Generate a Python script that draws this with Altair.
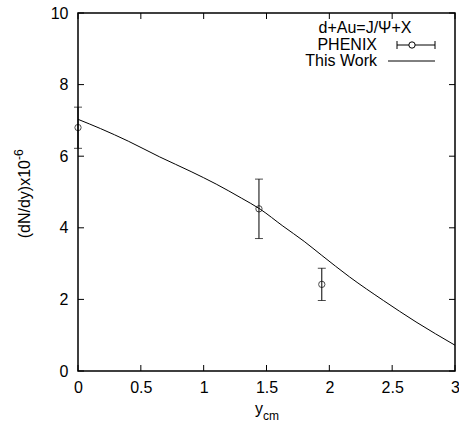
import altair as alt
import pandas as pd

# Theory curve ("This Work")
curve_x = [0.0, 0.18, 0.4, 0.65, 0.9, 1.1, 1.3, 1.45, 1.63, 1.8, 1.94, 2.16, 2.43, 2.69, 3.0]
curve_y = [7.03, 6.77, 6.42, 5.98, 5.57, 5.22, 4.83, 4.52, 4.05, 3.62, 3.23, 2.63, 1.97, 1.37, 0.72]

# PHENIX data
phenix_x = [0.0, 1.44, 1.94]
phenix_y = [6.8, 4.53, 2.42]
phenix_lo = [6.22, 3.70, 1.97]
phenix_hi = [7.37, 5.36, 2.87]

# axis tick values
x_ticks = [0, 0.5, 1, 1.5, 2, 2.5, 3]
y_ticks = [0, 2, 4, 6, 8, 10]

W, H = 377, 358
FONT = "Liberation Sans"
FS = 16

curve = pd.DataFrame({"x": curve_x, "y": curve_y})
pts = pd.DataFrame({"x": phenix_x, "y": phenix_y, "lo": phenix_lo, "hi": phenix_hi})
xt = pd.DataFrame({"v": x_ticks})
yt = pd.DataFrame({"v": y_ticks})

xs = alt.Scale(domain=[0, 3], nice=False, zero=False)
ys = alt.Scale(domain=[0, 10], nice=False, zero=False)

xaxis = alt.Axis(values=x_ticks, format=".1~f", title=None, domain=False, ticks=False, grid=False,
                 labelFont=FONT, labelFontSize=FS, labelColor="black", labelPadding=8,
                 labelFlush=False, labelOverlap=False)
yaxis = alt.Axis(values=y_ticks, format=".1~f", title=None, domain=False, ticks=False, grid=False,
                 labelFont=FONT, labelFontSize=FS, labelColor="black", labelPadding=10,
                 labelOverlap=False, labelFlush=False)

line = alt.Chart(curve).mark_line(color="black", strokeWidth=1, interpolate="monotone").encode(
    x=alt.X("x:Q", scale=xs, axis=xaxis),
    y=alt.Y("y:Q", scale=ys, axis=yaxis),
)

err = alt.Chart(pts).mark_rule(color="black", strokeWidth=1).encode(
    x=alt.X("x:Q", scale=xs), y=alt.Y("lo:Q", scale=ys), y2="hi:Q")
cap_lo = alt.Chart(pts).mark_tick(color="black", orient="horizontal", size=8, thickness=1).encode(
    x=alt.X("x:Q", scale=xs), y=alt.Y("lo:Q", scale=ys))
cap_hi = alt.Chart(pts).mark_tick(color="black", orient="horizontal", size=8, thickness=1).encode(
    x=alt.X("x:Q", scale=xs), y=alt.Y("hi:Q", scale=ys))
circ = alt.Chart(pts).mark_point(shape="circle", filled=False, color="black", size=40, strokeWidth=1).encode(
    x=alt.X("x:Q", scale=xs), y=alt.Y("y:Q", scale=ys))

# inside ticks (gnuplot style)
tl = 6
xt_b = alt.Chart(xt).mark_rule(color="black", strokeWidth=1).encode(
    x=alt.X("v:Q", scale=xs), y=alt.value(H), y2=alt.value(H - tl))
xt_t = alt.Chart(xt).mark_rule(color="black", strokeWidth=1).encode(
    x=alt.X("v:Q", scale=xs), y=alt.value(0), y2=alt.value(tl))
yt_l = alt.Chart(yt).mark_rule(color="black", strokeWidth=1).encode(
    y=alt.Y("v:Q", scale=ys), x=alt.value(0), x2=alt.value(tl))
yt_r = alt.Chart(yt).mark_rule(color="black", strokeWidth=1).encode(
    y=alt.Y("v:Q", scale=ys), x=alt.value(W), x2=alt.value(W - tl))

def txt(s, x, y, size=FS, align="left", angle=0):
    return alt.Chart(pd.DataFrame({"t": [s]})).mark_text(
        font=FONT, fontSize=size, color="black", align=align, baseline="alphabetic", angle=angle
    ).encode(text="t:N", x=alt.value(x), y=alt.value(y))

# legend
leg_title = txt("d+Au=J/\u03a8+X", 287, 20, align="center")
leg_ph = txt("PHENIX", 299, 37, align="right")
leg_tw = txt("This Work", 299, 53, align="right")
one = pd.DataFrame({"a": [0]})
leg_eb = alt.Chart(one).mark_rule(color="black", strokeWidth=1).encode(
    x=alt.value(319), x2=alt.value(357), y=alt.value(32))
leg_c1 = alt.Chart(one).mark_rule(color="black", strokeWidth=1).encode(
    x=alt.value(319), y=alt.value(28), y2=alt.value(36))
leg_c2 = alt.Chart(one).mark_rule(color="black", strokeWidth=1).encode(
    x=alt.value(357), y=alt.value(28), y2=alt.value(36))
leg_pt = alt.Chart(one).mark_point(shape="circle", filled=True, fill="white", stroke="black",
                                   size=40, strokeWidth=1, opacity=1).encode(
    x=alt.value(334), y=alt.value(32))
leg_ln = alt.Chart(one).mark_rule(color="black", strokeWidth=1).encode(
    x=alt.value(310), x2=alt.value(357), y=alt.value(48))

# axis titles with sub/superscripts
xt1 = txt("y", 177, 401)
xt2 = txt("cm", 185, 407, size=12)
yt1 = txt("(dN/dy)x10", -48, 147, align="right", angle=270)
yt2 = txt("-6", -55, 147, size=12, align="left", angle=270)

chart = alt.layer(
    line, err, cap_lo, cap_hi, circ, xt_b, xt_t, yt_l, yt_r,
    leg_title, leg_ph, leg_tw, leg_eb, leg_c1, leg_c2, leg_pt, leg_ln,
    xt1, xt2, yt1, yt2,
).properties(
    width=W, height=H,
    background="white",
    autosize=alt.AutoSizeParams(type="none"),
    padding={"left": 78, "top": 13, "right": 4, "bottom": 52},
).configure_view(
    stroke="black", strokeWidth=1.5
)

chart.save("out.html", embed_options={"renderer": "svg", "actions": False})
